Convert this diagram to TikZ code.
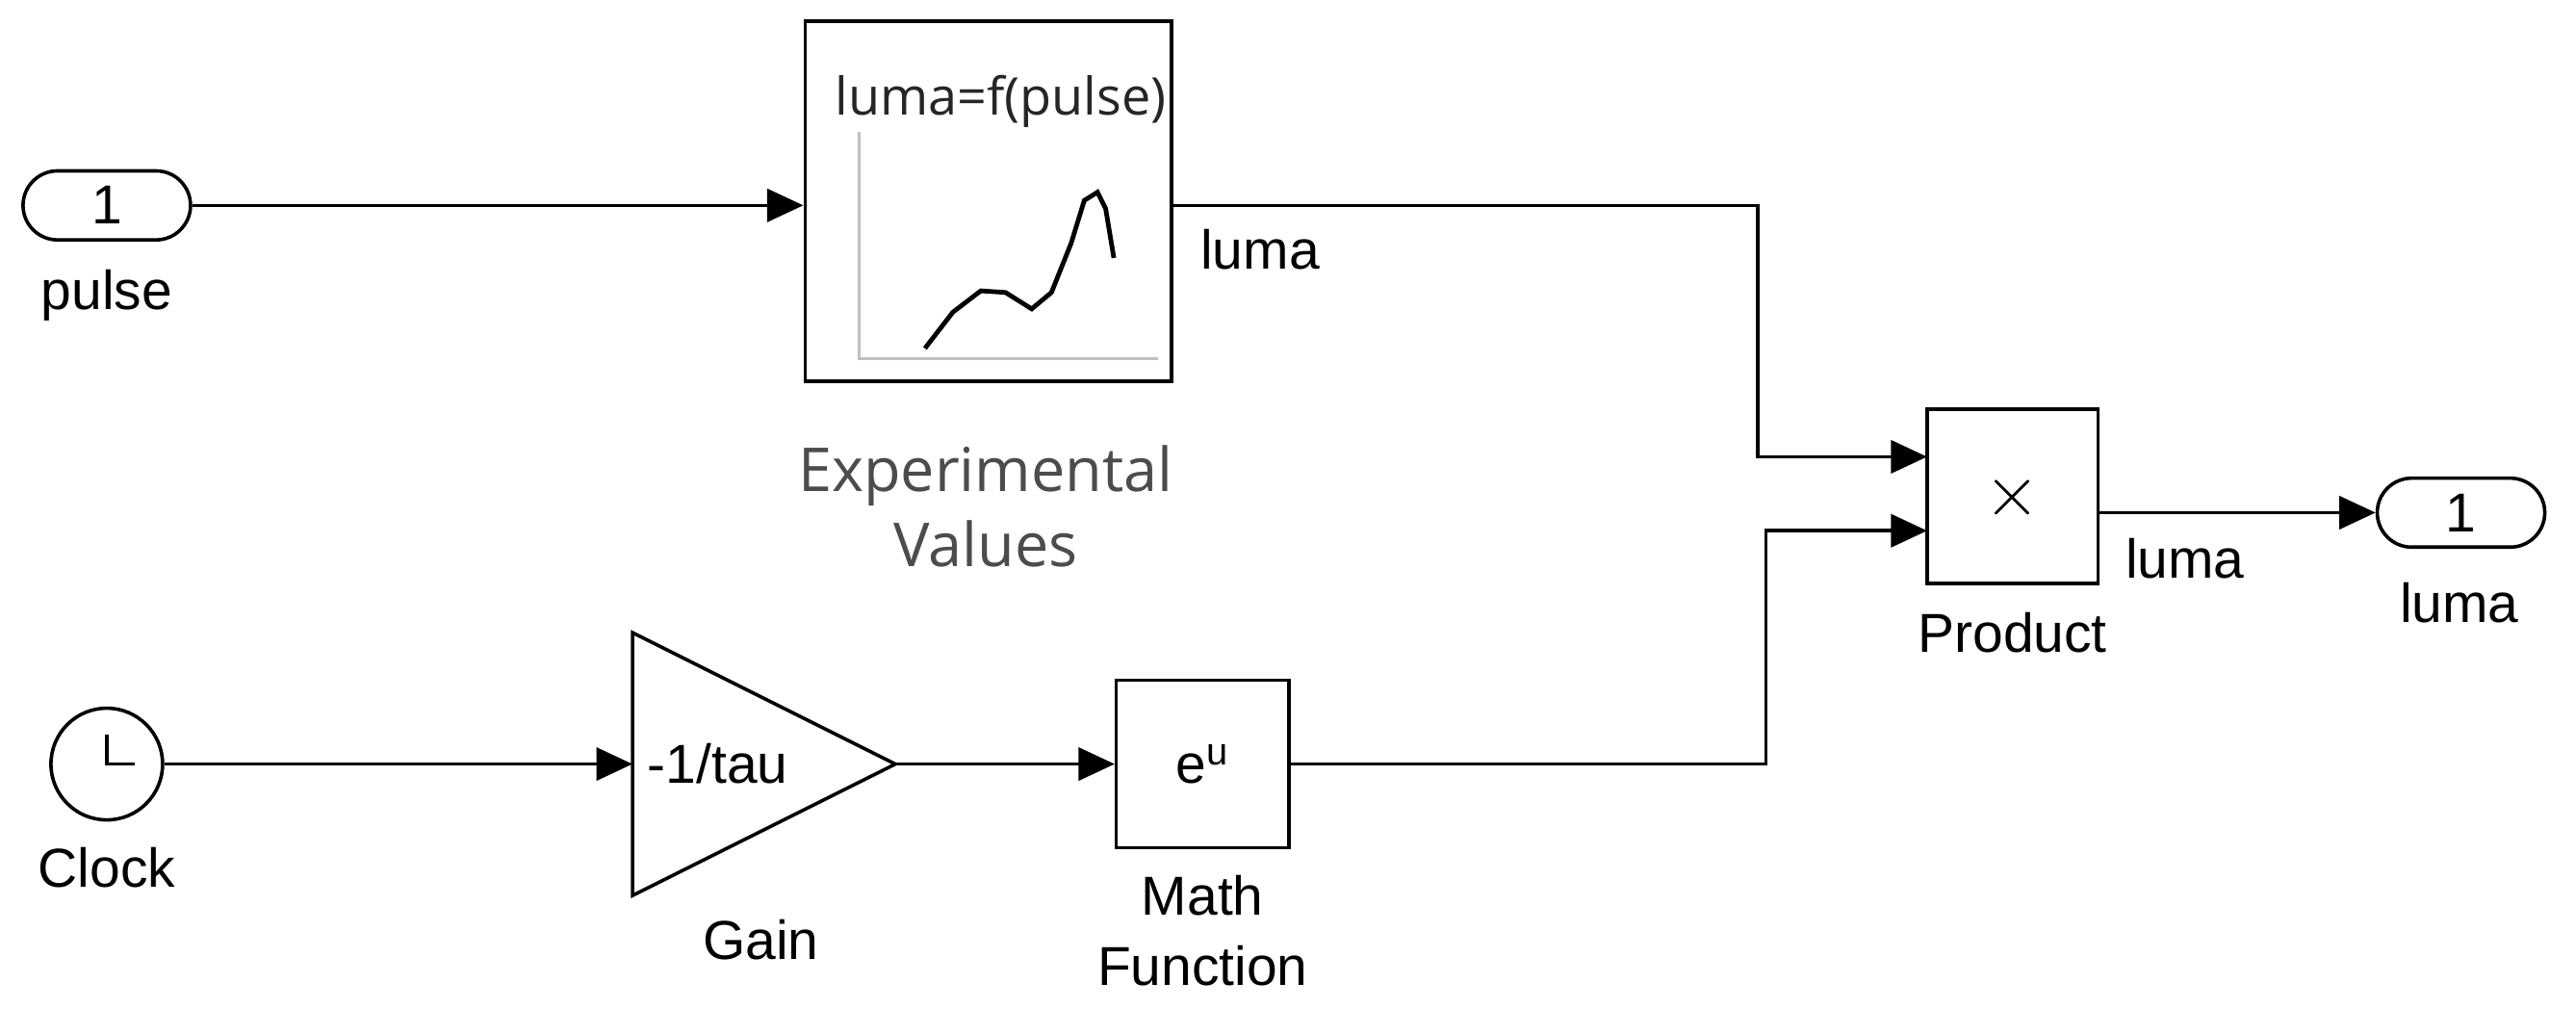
\documentclass[tikz,border=0pt]{standalone}
\usetikzlibrary{arrows.meta}
\usepackage{fontspec}
\setmainfont{Liberation Sans}
\newfontfamily\opensans{Open Sans}
\begin{document}
\begin{tikzpicture}[x=0.02cm,y=-0.02cm,
  blk/.style={draw,line width=1.2pt,fill=white,inner sep=0},
  lbl/.style={font=\fontsize{19pt}{22pt}\selectfont,align=center},
  wire/.style={line width=1.2pt,-{Triangle[length=0.44cm,width=0.4cm]}},
  every node/.style={font=\fontsize{19pt}{22pt}\selectfont}]
\useasboundingbox (0,0) rectangle (1568,614);
% inport
\node[blk,rounded corners=0.42cm,minimum width=2.04cm,minimum height=0.84cm] (in) at (65,125) {1};
\node[lbl] (inl) at (65,180) {pulse};
% lookup
\node[blk,minimum width=4.46cm,minimum height=4.38cm] (lut) at (601.5,122.5) {};
\node[font=\opensans\fontsize{18pt}{20pt}\selectfont,text=black!85] (lutt) at (609,62) {luma=f(pulse)};
\draw[gray!50,line width=1pt] (523,80) -- (523,218) -- (705,218);
\draw[line width=1.6pt] (563,212) -- (580,190) -- (597,177) -- (612,178) -- (628,188) -- (640,178) -- (652,148) -- (660,122) -- (668,117) -- (673,127) -- (678,157);
\node[font=\opensans\fontsize{21pt}{26pt}\selectfont,text=black!70,align=center] (lutl) at (600,308) {Experimental\\Values};
\draw[wire] (in) -- (lut.west |- in);
% product
\node[blk,minimum width=2.08cm,minimum height=2.12cm] (prod) at (1225,302) {};
\node[font=\fontsize{30pt}{30pt}\selectfont] (x) at (1225,303) {$\times$};
\node[lbl] (prodl) at (1225,385) {Product};
\coordinate (p1) at (1173,278);
\coordinate (p2) at (1173,323);
\draw[wire] (713,125) -- (1070,125) -- (1070,278) -- (p1);
\node[lbl] (l1) at (767,152) {luma};
% outport
\node[blk,rounded corners=0.42cm,minimum width=2.04cm,minimum height=0.84cm] (out) at (1498,312) {1};
\node[lbl] (outl) at (1497,367) {luma};
\draw[wire] (1277,312) -- (out.west);
\node[lbl] (l2) at (1330,340) {luma};
% clock
\node[blk,circle,minimum size=1.36cm] (clk) at (65,465) {};
\draw[line width=1.2pt] (clk.center) ++(0,-18) -- (clk.center) -- ++(17,0);
\node[lbl] (clkl) at (65,528) {Clock};
% gain
\draw[line width=1.2pt,fill=white] (385,385) -- (545,465) -- (385,545) -- cycle;
\coordinate (gin) at (385,465);
\coordinate (gout) at (545,465);
\node (g) at (437,465) {-1/tau};
\node[lbl] (gl) at (463,572) {Gain};
\draw[wire] (clk) -- (gin);
% math
\node[blk,minimum width=2.1cm,minimum height=2.04cm] (mf) at (732,465) {e$^{\mathrm{u}}$};
\node[lbl] (mfl1) at (732,545) {Math};
\node[lbl] (mfl2) at (732,588) {Function};
\draw[wire] (gout) -- (mf);
\draw[wire] (mf.east) -- (1075,465) -- (1075,323) -- (p2);
\end{tikzpicture}
\end{document}
